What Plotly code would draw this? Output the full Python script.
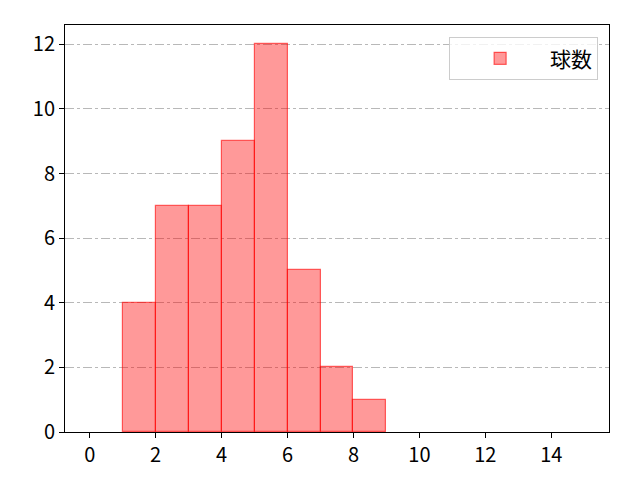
import plotly.graph_objects as go

# histogram bins (left edges) and counts
bin_starts = [1, 2, 3, 4, 5, 6, 7, 8]
counts = [4, 7, 7, 9, 12, 5, 2, 1]
series_name = "球数"
x_ticks = [0, 2, 4, 6, 8, 10, 12, 14]
y_ticks = [0, 2, 4, 6, 8, 10, 12]

fig = go.Figure()
fig.add_trace(go.Bar(
    x=bin_starts, y=counts, name=series_name,
    offset=0, width=1,
    marker=dict(color="rgba(255,0,0,0.4)",
                line=dict(color="rgba(255,0,0,0.6)", width=1.2)),
    showlegend=True,
))

font = "Noto Sans CJK JP, Noto Sans, sans-serif"
# page body has an 8px margin, so margins are shifted to keep the axes in place
fig.update_layout(
    width=640, height=480,
    margin=dict(l=57, r=39, t=17, b=56),
    paper_bgcolor="white", plot_bgcolor="white",
    font=dict(family=font, size=20, color="black"),
    bargap=0,
    legend=dict(
        x=0.98, y=0.97, xanchor="right", yanchor="top",
        bgcolor="rgba(255,255,255,0.8)", bordercolor="#cccccc", borderwidth=1,
        font=dict(size=21), itemwidth=90,
    ),
    xaxis=dict(
        range=[-0.75, 15.75], tickvals=x_ticks, showgrid=False, zeroline=False,
        showline=True, linecolor="black", linewidth=1, mirror=True,
        ticks="outside", ticklen=5, tickcolor="black",
    ),
    yaxis=dict(
        range=[0, 12.6], tickvals=y_ticks, zeroline=False,
        showgrid=True, gridcolor="#b8b8b8", griddash="dashdot", gridwidth=0.8,
        showline=True, linecolor="black", linewidth=1, mirror=True,
        ticks="outside", ticklen=5, tickcolor="black",
    ),
)

fig.write_html("out.html")
